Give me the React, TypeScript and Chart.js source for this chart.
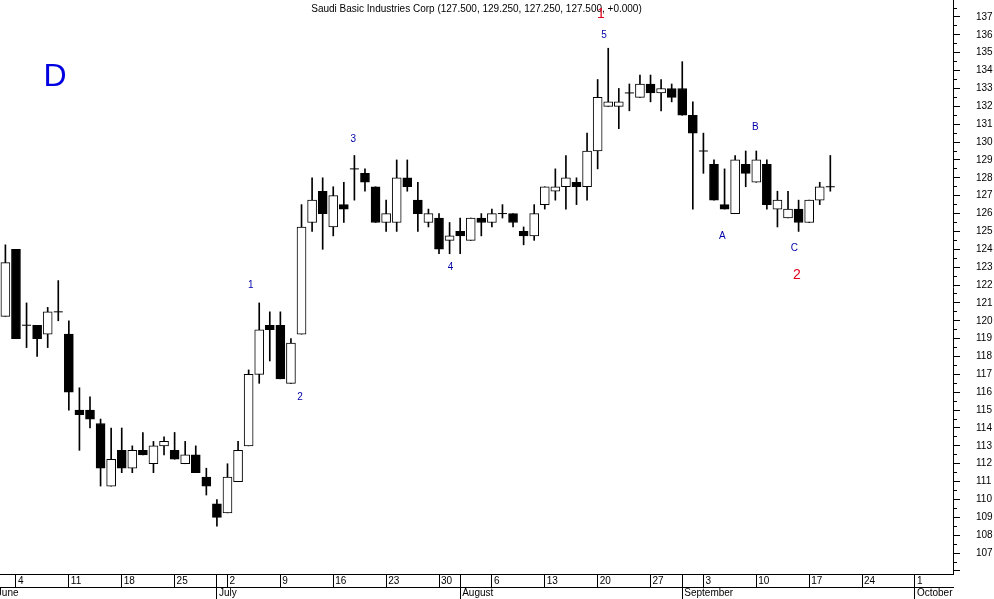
import { useEffect, useRef } from 'react';
import { Chart, registerables } from 'chart.js';

Chart.register(...registerables);

// Candle i = trading day i (Saudi Sat–Wed week); day 0 = Sun 3 Jun 2007, day 78 = Wed 19 Sep 2007
const openP = [
  120.25, 124, 119.75, 119.75, 119.25, 120.5, 119.25, 115, 115, 114.25,
  110.75, 112.75, 111.75, 112.75, 112, 113, 112.75, 112, 112.5, 111.25,
  109.75, 109.25, 111, 113, 117, 119.75, 119.75, 116.5, 119.25, 125.5,
  127.25, 125.25, 126.5, 128.5, 128.25, 127.5, 125.5, 125.5, 128, 126.75,
  125.5, 125.75, 124.5, 125, 124.5, 125.75, 125.5, 126, 126, 125,
  124.75, 126.5, 127.25, 127.5, 127.75, 127.5, 129.5, 132, 132, 132.75,
  132.5, 133.25, 132.75, 133, 133, 131.5, 129.5, 128.75, 126.5, 126,
  128.75, 127.75, 128.75, 126.25, 125.75, 126.25, 125.5, 126.75, 127.5,
];
const highP = [
  124.25, 124, 121, 119.75, 120.75, 122.25, 120, 116.25, 115.75, 114.5,
  114, 114, 113, 113.75, 113.25, 113.5, 113.75, 113.25, 113, 111.75,
  110, 112, 113.25, 117.25, 121, 120.5, 120.5, 119, 126.5, 128,
  128, 127.5, 127.75, 129.25, 128.5, 127.5, 126.75, 129, 129, 127.75,
  126.25, 126, 125.5, 125.75, 125.75, 126, 126.25, 126.5, 126, 125.25,
  126.5, 127.5, 128.5, 129.25, 128, 130.5, 133.5, 135.25, 133, 133.25,
  133.75, 133.75, 133.5, 133.25, 134.5, 132.25, 130.5, 129, 128.5, 129.25,
  129.5, 129.5, 129, 127.25, 127.25, 126.75, 126.75, 127.75, 129.25,
];
const lowP = [
  120.25, 119, 118.5, 118, 118.5, 120, 115, 112.75, 114, 110.75,
  110.75, 111.5, 111.5, 112.5, 111.5, 112.5, 112.25, 112, 111.5, 110.25,
  108.5, 109.25, 111, 113, 116.5, 117.75, 116.75, 116.5, 119.25, 125,
  124, 124.75, 125.5, 126.75, 127.25, 125.5, 125, 125, 127.25, 125,
  125.25, 123.75, 123.75, 123.75, 124.5, 124.75, 125.25, 125.75, 125.25, 124.25,
  124.5, 126.25, 126.75, 126.25, 126.5, 126.75, 128.5, 132, 130.75, 131.75,
  132.5, 132.25, 131.75, 132.25, 131.5, 126.25, 128.25, 126.75, 126.25, 126,
  127.5, 127.75, 126.25, 125.25, 125.75, 125, 125.5, 126.5, 127.25,
];
const closeP = [
  123.25, 119, 119.75, 119, 120.5, 120.5, 116, 114.75, 114.5, 111.75,
  112.25, 111.75, 112.75, 112.5, 113, 113.25, 112.25, 112.5, 111.5, 110.75,
  109, 111.25, 112.75, 117, 119.5, 119.5, 116.75, 118.75, 125.25, 126.75,
  126, 127, 126.25, 128.5, 127.75, 125.5, 126, 128, 127.5, 126,
  126, 124, 124.75, 124.75, 125.75, 125.5, 126, 126, 125.5, 124.75,
  126, 127.5, 127.5, 128, 127.5, 129.5, 132.5, 132.25, 132.25, 132.75,
  133.25, 132.75, 133, 132.5, 131.5, 130.5, 129.5, 126.75, 126.25, 129,
  128.25, 129, 126.5, 126.75, 126.25, 125.5, 126.75, 127.5, 127.5,
];

// x-axis tick labels (trading-day index of each tick)
const weekTickSlots = [1, 6, 11, 16, 21, 26, 31, 36, 41, 46, 51, 56, 61, 66, 71, 76, 81, 86];
const weekTickLabels = ['4', '11', '18', '25', '2', '9', '16', '23', '30', '6', '13', '20', '27', '3', '10', '17', '24', '1'];
const monthTickSlots = [-1, 20, 43, 64, 86];
const monthTickLabels = ['June', 'July', 'August', 'September', 'October'];

// y-axis labelled range
const yLabelFirst = 107;
const yLabelLast = 137;

// wave annotations
const waveText = ['1', '2', '3', '4', '5', 'A', 'B', 'C', '1', '2'];
const waveSlot = [23.2, 27.85, 32.9, 42.1, 56.6, 67.8, 70.9, 74.6, 56.3, 74.85];
const wavePrice = [122.0, 115.73, 130.17, 123.01, 136.0, 124.74, 130.84, 124.07, 137.17, 122.56];
const waveMajor = [false, false, false, false, false, false, false, false, true, true];

const titleText = 'Saudi Basic Industries Corp (127.500, 129.250, 127.250, 127.500, +0.000)';
const periodText = 'D';

const FONT = '"Liberation Sans", Arial, sans-serif';

export default function App() {
  const ref = useRef<HTMLCanvasElement | null>(null);

  useEffect(() => {
    document.body.style.margin = '0';
    const canvas = ref.current;
    if (!canvas) return;

    const idx = openP.map((_, i) => i);
    const wicks = idx.map((i) => ({ x: i, y: [lowP[i], highP[i]] }));
    const bodies = idx
      .filter((i) => openP[i] !== closeP[i])
      .map((i) => ({ x: i, y: [openP[i], closeP[i]], up: closeP[i] > openP[i] }));
    const dojis = idx.filter((i) => openP[i] === closeP[i]).map((i) => ({ x: i, y: closeP[i] }));

    const xTickValues = [
      ...weekTickSlots,
      ...monthTickSlots.filter((s) => !weekTickSlots.includes(s)),
    ].sort((a, b) => a - b);

    const noPad = (scale: any) => {
      scale.paddingTop = 0;
      scale.paddingBottom = 0;
      scale.paddingLeft = 0;
      scale.paddingRight = 0;
    };

    const overlay = {
      id: 'overlay',
      afterDatasetsDraw(chart: any) {
        const { ctx, chartArea, scales } = chart;
        ctx.save();
        ctx.fillStyle = '#000';
        ctx.font = `10px ${FONT}`;
        ctx.textAlign = 'center';
        ctx.textBaseline = 'middle';
        ctx.fillText(titleText, (chartArea.left + chartArea.right) / 2, chartArea.top + 9);

        for (let k = 0; k < waveText.length; k++) {
          const px = scales.x.getPixelForValue(waveSlot[k]);
          const py = scales.y.getPixelForValue(wavePrice[k]);
          if (waveMajor[k]) {
            ctx.fillStyle = '#e0001c';
            ctx.font = `14px ${FONT}`;
          } else {
            ctx.fillStyle = '#0000a8';
            ctx.font = `10px ${FONT}`;
          }
          ctx.fillText(waveText[k], px, py);
        }

        ctx.fillStyle = '#0000e0';
        ctx.font = `32px ${FONT}`;
        ctx.textAlign = 'left';
        ctx.textBaseline = 'alphabetic';
        ctx.fillText(periodText, chartArea.left + 43.5, chartArea.top + 86);
        ctx.restore();
      },
    };

    const xCommon = {
      type: 'linear',
      position: 'bottom',
      min: -0.51,
      max: 89.6,
      bounds: 'data',
      offset: false,
    };

    const chart = new Chart(canvas, {
      type: 'bar',
      data: {
        datasets: [
          {
            type: 'bar',
            label: 'range',
            data: wicks as any,
            backgroundColor: '#000',
            borderWidth: 0,
            barThickness: 1,
            grouped: false,
            order: 3,
          } as any,
          {
            type: 'bar',
            label: 'body',
            data: bodies as any,
            backgroundColor: (c: any) => (c.raw && c.raw.up ? '#ffffff' : '#000000'),
            borderColor: '#000',
            borderWidth: 1,
            borderSkipped: false,
            barThickness: 9,
            grouped: false,
            order: 2,
          } as any,
          {
            type: 'scatter',
            label: 'doji',
            data: dojis as any,
            pointStyle: 'line',
            pointRadius: 4.5,
            pointBorderWidth: 1,
            borderColor: '#000',
            backgroundColor: '#000',
            order: 1,
          } as any,
        ],
      },
      options: {
        animation: false,
        responsive: false,
        events: [],
        layout: { padding: 0, autoPadding: false } as any,
        plugins: {
          legend: { display: false },
          tooltip: { enabled: false },
          title: { display: false },
        },
        scales: {
          x: {
            ...xCommon,
            weight: 0,
            afterBuildTicks: (scale: any) => {
              scale.ticks = xTickValues.map((v) => ({ value: v }));
            },
            afterFit: (scale: any) => {
              scale.height = 13;
              noPad(scale);
            },
            grid: {
              display: true,
              offset: false,
              drawOnChartArea: false,
              drawTicks: true,
              tickLength: 13,
              tickColor: '#000',
              tickWidth: 1,
              color: '#000',
            },
            border: { display: true, color: '#000', width: 1 },
            ticks: {
              autoSkip: false,
              maxRotation: 0,
              minRotation: 0,
              align: 'start',
              labelOffset: 2,
              padding: -12,
              color: '#000',
              font: { family: FONT, size: 10 },
              callback: (value: any) => {
                const k = weekTickSlots.indexOf(Number(value));
                return k >= 0 ? weekTickLabels[k] : '';
              },
            },
          } as any,
          x2: {
            ...xCommon,
            weight: 1,
            afterBuildTicks: (scale: any) => {
              scale.ticks = monthTickSlots.map((v) => ({ value: v }));
            },
            afterFit: (scale: any) => {
              scale.height = 12;
              noPad(scale);
            },
            grid: {
              display: true,
              offset: false,
              drawOnChartArea: false,
              drawTicks: true,
              tickLength: 12,
              tickColor: '#000',
              tickWidth: 1,
              color: '#000',
            },
            border: { display: true, color: '#000', width: 1 },
            ticks: {
              autoSkip: false,
              maxRotation: 0,
              minRotation: 0,
              align: 'start',
              labelOffset: 2,
              padding: -12,
              color: '#000',
              font: { family: FONT, size: 10 },
              callback: (_v: any, index: number) => monthTickLabels[index] ?? '',
            },
          } as any,
          y: {
            type: 'linear',
            position: 'right',
            min: 105.83,
            max: 137.95,
            bounds: 'data',
            afterBuildTicks: (scale: any) => {
              const t: { value: number }[] = [];
              for (let v = yLabelFirst - 1; v <= yLabelLast + 0.5; v += 0.5) t.push({ value: v });
              scale.ticks = t;
            },
            afterFit: (scale: any) => {
              scale.width = 41;
              noPad(scale);
            },
            grid: {
              display: true,
              drawOnChartArea: false,
              drawTicks: true,
              tickLength: 7,
              tickColor: '#000',
              tickWidth: 1,
              tickBorderDash: (c: any) =>
                c.tick && Number.isInteger(c.tick.value) ? [] : [3, 20],
            },
            border: { display: true, color: '#000', width: 1 },
            ticks: {
              autoSkip: false,
              padding: 16,
              color: '#000',
              font: { family: FONT, size: 10 },
              callback: (value: any) => {
                const v = Number(value);
                return Number.isInteger(v) && v >= yLabelFirst && v <= yLabelLast ? String(v) : '';
              },
            },
          } as any,
        },
      },
      plugins: [overlay],
    });

    return () => chart.destroy();
  }, []);

  return (
    <div style={{ width: 994, height: 599, background: '#fff' }}>
      <canvas ref={ref} width={994} height={599} style={{ display: 'block', width: 994, height: 599 }} />
    </div>
  );
}
